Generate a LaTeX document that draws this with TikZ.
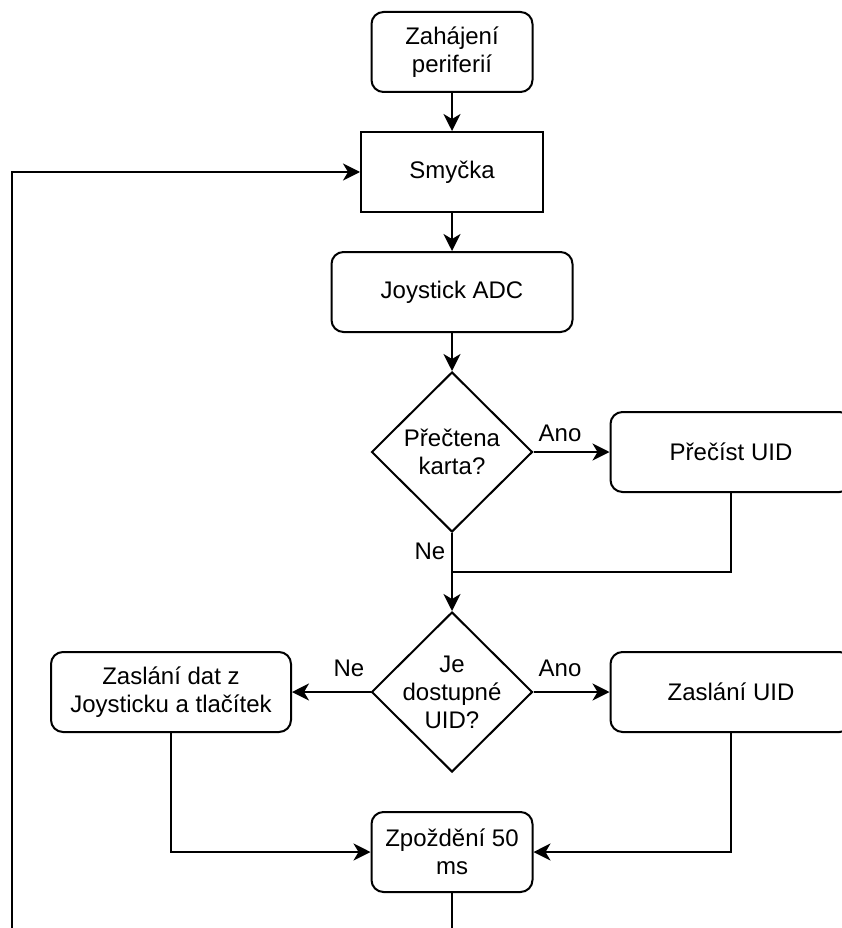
\documentclass[tikz,border=0pt]{standalone}
\usepackage{fontspec}
\setmainfont{Liberation Sans}
\usetikzlibrary{shapes.geometric,arrows.meta}
\begin{document}
\begin{tikzpicture}[x=1pt,y=-1pt,
  every node/.style={font=\fontsize{24}{28}\selectfont, align=center},
  line/.style={line width=2pt, line join=miter},
  arr/.style={line, -{Stealth[length=17pt,width=17pt,inset=5pt]}},
  procbox/.style={draw, line width=2pt, rounded corners=12pt, inner sep=0pt},
  plainbox/.style={draw, line width=2pt, inner sep=0pt},
  decision/.style={draw, line width=2pt, diamond, inner sep=-10pt,
    minimum width=161pt, minimum height=160pt},
  tag/.style={inner sep=0pt}
]
\useasboundingbox (0,0) rectangle (841,928);

% process steps
\node[procbox, minimum width=161pt, minimum height=80pt] (init) at (452,52) {Zahájení\\periferií};
\node[plainbox, minimum width=182pt, minimum height=80pt] (loop) at (452,172) {Smyčka};
\node[procbox, minimum width=241pt, minimum height=80pt] (adc) at (452,292) {Joystick ADC};
\node[decision] (card) at (452,452) {Přečtena\\karta?};
\node[procbox, minimum width=241pt, minimum height=80pt] (read) at (731,452) {Přečíst UID};
\node[decision] (avail) at (452,692) {Je\\dostupné\\UID?};
\node[procbox, minimum width=240pt, minimum height=80pt] (send) at (171,692) {Zaslání dat z\\Joysticku a tlačítek};
\node[procbox, minimum width=241pt, minimum height=80pt] (uid) at (731,692) {Zaslání UID};
\node[procbox, minimum width=161pt, minimum height=80pt] (delay) at (452,852) {Zpoždění 50\\ms};

% helper points
\coordinate (join) at (452,572);
\coordinate (bottom) at (12,945);

% connectors
\draw[arr] (init) -- (loop);
\draw[arr] (loop) -- (adc);
\draw[arr] (adc) -- (card);
\draw[arr] (card.east) -- (read.west);
\draw[arr] (card.south) -- (avail.north);
\draw[line] (read.south) |- (join);
\draw[arr] (avail.west) -- (send.east);
\draw[arr] (avail.east) -- (uid.west);
\draw[arr] (send.south) |- (delay.west);
\draw[arr] (uid.south) |- (delay.east);
\draw[arr] (delay.south) |- (bottom) |- (loop.west);

% branch labels
\node[tag] (yes1) at (560,433) {Ano};
\node[tag] (no1) at (430,551) {Ne};
\node[tag] (no2) at (349,668) {Ne};
\node[tag] (yes2) at (560,668) {Ano};
\end{tikzpicture}
\end{document}
